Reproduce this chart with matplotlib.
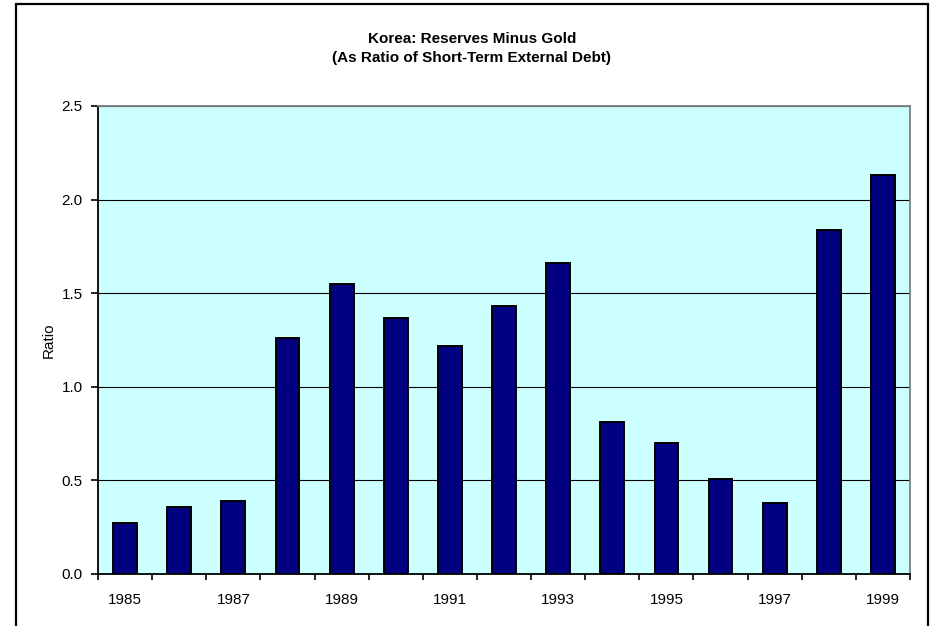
import numpy as np
import matplotlib.pyplot as plt
from matplotlib.patches import Rectangle

plt.rcParams['font.family'] = ['Liberation Sans', 'DejaVu Sans']

# data
years = list(range(1985, 2000))
ratio = [0.27, 0.36, 0.39, 1.26, 1.55, 1.37, 1.22, 1.43, 1.66,
         0.81, 0.70, 0.51, 0.38, 1.84, 2.13]
label_years = [y for y in years if (y - 1985) % 2 == 0]

fig = plt.figure(figsize=(9.32, 6.26), dpi=100)
ax = fig.add_axes([0.1052, 0.0831, 0.8712, 0.7476])
ax.set_facecolor('#CCFFFF')

x = np.arange(len(years))
ax.bar(x, ratio, width=0.44, color='#000080', edgecolor='black', linewidth=1.4, zorder=3)

ax.set_xlim(-0.5, len(years) - 0.5)
ax.set_ylim(0, 2.5)
ax.set_yticks(np.arange(0, 2.51, 0.5))
ax.set_yticklabels(['%.1f' % v for v in np.arange(0, 2.51, 0.5)])
ax.yaxis.grid(True, color='black', linewidth=0.8, zorder=1)
ax.set_axisbelow(True)

# ticks at category boundaries, labels under every other bar
ax.set_xticks(np.arange(-0.5, len(years), 1.0))
ax.set_xticklabels([])
ax.set_xticks([years.index(y) for y in label_years], minor=True)
ax.set_xticklabels([str(y) for y in label_years], minor=True)
ax.tick_params(axis='x', which='major', direction='out', length=4, width=1.2)
ax.tick_params(axis='x', which='minor', length=0, pad=14, labelsize=11)
ax.tick_params(axis='y', direction='out', length=5, width=1.2, pad=6, labelsize=11)

for s in ['left', 'bottom']:
    ax.spines[s].set_color('black')
    ax.spines[s].set_linewidth(1.3)
for s in ['top', 'right']:
    ax.spines[s].set_color('#808080')
    ax.spines[s].set_linewidth(1.3)

ax.set_ylabel('Ratio', fontsize=11)
ax.yaxis.set_label_coords(-0.052, 0.5)

fig.text(472 / 932, 1 - 39 / 626, 'Korea: Reserves Minus Gold', ha='center', va='center',
         fontsize=11, fontweight='bold')
fig.text(472 / 932, 1 - 58 / 626, '(As Ratio of Short-Term External Debt)', ha='center',
         va='center', fontsize=11, fontweight='bold')

# outer chart border
fig.patches.append(Rectangle((16 / 932, -0.05), (928 - 16) / 932, 1 - 4 / 626 + 0.05,
                             transform=fig.transFigure, fill=False, edgecolor='black',
                             linewidth=1.6, clip_on=False))

fig.savefig('out.png', dpi=100)
